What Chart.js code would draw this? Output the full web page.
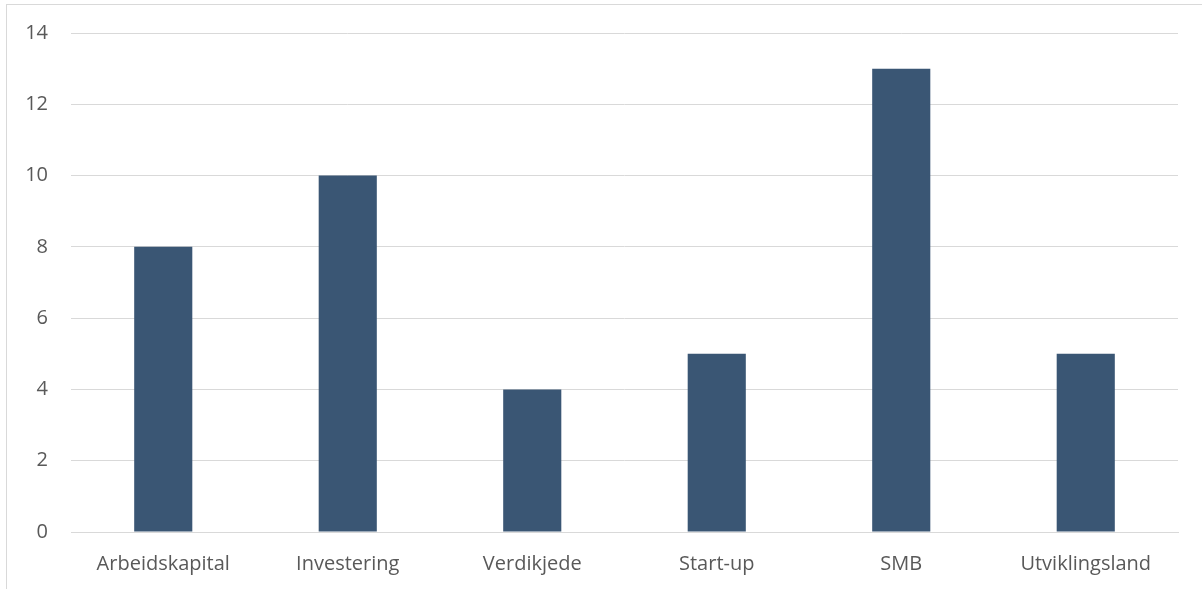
<!DOCTYPE html>
<html>
<head>
<meta charset="utf-8">
<script src="https://cdn.jsdelivr.net/npm/chart.js@4"></script>
<style>
  html, body { margin: 0; padding: 0; background: #fff; overflow: hidden; }
  #frame {
    position: absolute; left: 6px; top: 4px;
    width: 1196px; height: 585px;
    border-left: 1px solid #d9d9d9; border-top: 1px solid #d9d9d9;
  }
  #myChart { display: block; }
</style>
</head>
<body>
<div id="frame"><canvas id="myChart" width="1195" height="584"></canvas></div>
<script>
// categories and values
const labels = ['Arbeidskapital', 'Investering', 'Verdikjede', 'Start-up', 'SMB', 'Utviklingsland'];
const values = [8, 10, 4, 5, 13, 5];
const yTicks = [0, 2, 4, 6, 8, 10, 12, 14];

const textColor = '#595959';
const gridColor = '#d9d9d9';
const barColor = '#3a5674';
const font = { family: 'Open Sans', size: 20 };

var ctx = document.getElementById('myChart');

var barChart = new Chart(ctx, {
    type: 'bar',
    data: {
        labels: labels,
        datasets: [{
            data: values,
            backgroundColor: barColor,
            borderWidth: 0,
            categoryPercentage: 1,
            barPercentage: 0.315
        }]
    },
    options: {
        responsive: false,
        animation: false,
        layout: { padding: { top: 28, right: 24, left: 0, bottom: 0 } },
        plugins: { legend: { display: false }, tooltip: { enabled: false } },
        scales: {
            x: {
                grid: { display: false, drawTicks: false },
                border: { color: gridColor, width: 1 },
                ticks: { color: textColor, font: font, padding: 20, maxRotation: 0 },
                afterFit: function(scale) {
                    scale.height = 57;
                    scale.paddingLeft = 0; scale.paddingRight = 0;
                }
            },
            y: {
                min: 0, max: 14,
                afterBuildTicks: function(scale) {
                    scale.ticks = yTicks.map(function(v) { return { value: v }; });
                },
                grid: { color: gridColor, lineWidth: 1, drawTicks: false },
                border: { display: false },
                ticks: { color: textColor, font: font, padding: 23 },
                afterFit: function(scale) {
                    scale.width = 64;
                    // keep the plot area where the reference has it
                    scale.paddingTop = 0; scale.paddingBottom = 0;
                }
            }
        }
    }
});
</script>
</body>
</html>
